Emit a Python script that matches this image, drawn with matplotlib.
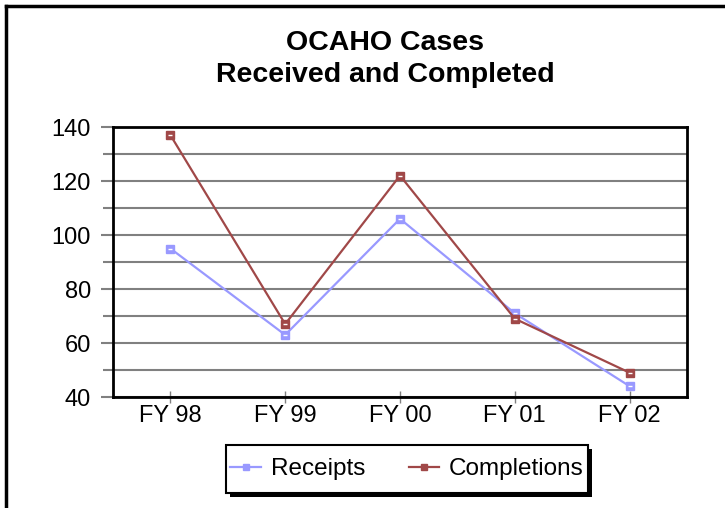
import matplotlib
matplotlib.use("Agg")
import matplotlib.pyplot as plt
from matplotlib.lines import Line2D
from matplotlib.patches import Rectangle

plt.rcParams['font.family'] = ['Liberation Sans', 'DejaVu Sans']

years = ['FY 98', 'FY 99', 'FY 00', 'FY 01', 'FY 02']
receipts = [95, 63, 106, 71, 44]
completions = [137, 67, 122, 69, 49]

blue = '#9999FF'
red = '#A04848'

W, H = 725, 508
fig = plt.figure(figsize=(W / 100, H / 100), dpi=100)

# plot area in pixels: left 113, right 687, top 127, bottom 397
ax = fig.add_axes([113 / W, 1 - 397 / H, (687 - 113) / W, (397 - 127) / H])
x = list(range(len(years)))
ax.plot(x, receipts, color=blue, lw=1.6, marker='s', ms=6, mfc=blue, mec=blue, label='Receipts', zorder=3)
ax.plot(x, completions, color=red, lw=1.6, marker='s', ms=6, mfc=red, mec=red, label='Completions', zorder=4)
# small white notch inside the markers, as in the original
ax.plot(x, receipts, ls='none', marker='_', ms=3, mew=1, color='white', zorder=5)
ax.plot(x, completions, ls='none', marker='_', ms=3, mew=1, color='white', zorder=5)

ax.set_xlim(-0.5, 4.5)
ax.set_ylim(40, 140)
ax.set_xticks(x)
ax.set_xticklabels(years)
ax.set_yticks(range(40, 141, 20))
ax.set_yticks(range(50, 140, 20), minor=True)
ax.grid(True, which='both', axis='y', color='#808080', lw=1.5)
ax.tick_params(axis='y', which='major', length=9, width=1.5, color='#808080', labelsize=17, pad=7)
ax.tick_params(axis='y', which='minor', length=7, width=1.5, color='#808080')
ax.tick_params(axis='x', direction='inout', length=9, width=1, color='#808080', labelsize=17, pad=1)
for s in ax.spines.values():
    s.set_linewidth(2)
    s.set_color('black')
ax.set_axisbelow(True)

fig.text(385 / W, 1 - 43 / H, 'OCAHO Cases', ha='center', va='center', fontsize=20.5, fontweight='bold')
fig.text(385 / W, 1 - 75 / H, 'Received and Completed', ha='center', va='center', fontsize=20.5, fontweight='bold')

# legend box with shadow
lx0, ly0, lx1, ly1 = 226, 445, 588, 493
fig.patches.append(Rectangle((lx0 / W + 4 / W, 1 - (ly1 + 4) / H), (lx1 - lx0) / W, (ly1 - ly0) / H,
                             transform=fig.transFigure, facecolor='black', edgecolor='none', zorder=1))
fig.patches.append(Rectangle((lx0 / W, 1 - ly1 / H), (lx1 - lx0) / W, (ly1 - ly0) / H,
                             transform=fig.transFigure, facecolor='white', edgecolor='black', lw=1.5, zorder=2))
handles = [Line2D([0], [0], color=blue, lw=1.6, marker='s', ms=5, mfc=blue, mec=blue),
           Line2D([0], [0], color=red, lw=1.6, marker='s', ms=5, mfc=red, mec=red)]
leg = fig.legend(handles, ['Receipts', 'Completions'], loc='center',
                 bbox_to_anchor=((lx0 + lx1) / 2 / W, 1 - (ly0 + ly1) / 2 / H),
                 ncol=2, frameon=False, fontsize=17.5, handlelength=1.25, handletextpad=0.4,
                 columnspacing=1.8)
leg.set_zorder(5)

# outer border (only top and left visible)
fig.add_artist(Line2D([6 / W, 1], [1 - 6 / H, 1 - 6 / H], color='black', lw=2.5, transform=fig.transFigure))
fig.add_artist(Line2D([6 / W, 6 / W], [0, 1 - 6 / H], color='black', lw=2.5, transform=fig.transFigure))

fig.savefig('out.png', dpi=100)
